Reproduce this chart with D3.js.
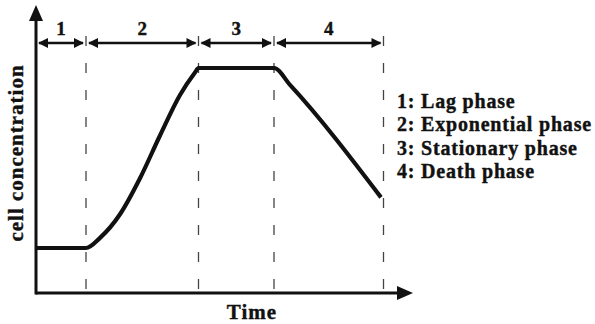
<!DOCTYPE html>
<html><head><meta charset="utf-8">
<script src="https://cdn.jsdelivr.net/npm/d3@7"></script>
<style>html,body{margin:0;padding:0;background:#fff;}svg{display:block;}</style>
</head><body>
<svg id="c" width="595" height="324"></svg>
<script>
// ---- data ----
const phaseLabels = ["1", "2", "3", "4"];
const phaseBounds = [0, 1, 3.25, 4.76, 6.95];           // time units
const legendLabels = ["1: Lag phase", "2: Exponential phase", "3: Stationary phase", "4: Death phase"];
const curveTime  = [0, 1, 1.28, 1.68, 2.08, 2.48, 2.88, 3.18, 3.25, 4.76, 5.08, 6.9];
const curveValue = [2, 2, 2.45, 3.5, 5.1, 7.0, 8.8, 9.8, 10, 10, 9.25, 4.25];
const xAxisMax = 7.54, yAxisMax = 12.8;
const xTitle = "Time", yTitle = "cell concentration";

// ---- drawing ----
const svg = d3.select("#c");
const x = d3.scaleLinear().domain([0, 7.5]).range([36, 411]);
const y = d3.scaleLinear().domain([0, 10]).range([293, 68]);
const ink = "#111";
const font = "'Liberation Serif','Times New Roman',serif";

// dashed phase boundaries
svg.selectAll("line.bound").data(phaseBounds.slice(1)).join("line")
  .attr("x1", d => x(d)).attr("x2", d => x(d))
  .attr("y1", 36).attr("y2", 291)
  .attr("stroke", "#444").attr("stroke-width", 1.3)
  .attr("stroke-dasharray", "10,17");

// axes
svg.append("line").attr("x1", x(0)).attr("x2", x(xAxisMax) - 12).attr("y1", y(0)).attr("y2", y(0))
  .attr("stroke", ink).attr("stroke-width", 3);
svg.append("line").attr("x1", x(0)).attr("x2", x(0)).attr("y1", y(0) + 1.5).attr("y2", y(yAxisMax) + 12)
  .attr("stroke", ink).attr("stroke-width", 3);
const xe = x(xAxisMax), ye = y(yAxisMax);
svg.append("path").attr("d", `M${xe},${y(0)} L${xe - 16},${y(0) - 7} L${xe - 16},${y(0) + 7} Z`).attr("fill", ink);
svg.append("path").attr("d", `M${x(0)},${ye} L${x(0) - 7},${ye + 16} L${x(0) + 7},${ye + 16} Z`).attr("fill", ink);

// phase arrows
const ay = 43;
const phases = d3.range(phaseLabels.length).map(i => ({a: phaseBounds[i], b: phaseBounds[i + 1], label: phaseLabels[i]}));
const g = svg.selectAll("g.phase").data(phases).join("g");
g.append("line")
  .attr("x1", d => x(d.a) + 3).attr("x2", d => x(d.b) - 3)
  .attr("y1", ay).attr("y2", ay).attr("stroke", ink).attr("stroke-width", 2.4);
g.append("path").attr("fill", ink)
  .attr("d", d => { const s = x(d.a) + 2; return `M${s},${ay} L${s + 10},${ay - 5} L${s + 10},${ay + 5} Z`; });
g.append("path").attr("fill", ink)
  .attr("d", d => { const e = x(d.b) - 2; return `M${e},${ay} L${e - 10},${ay - 5} L${e - 10},${ay + 5} Z`; });
g.append("text").attr("x", d => x((d.a + d.b) / 2)).attr("y", 35)
  .attr("text-anchor", "middle").attr("font-family", font).attr("font-weight", "bold")
  .attr("font-size", 19).attr("fill", ink).attr("stroke", ink).attr("stroke-width", 0.4).text(d => d.label);

// growth curve
const pts = curveTime.map((t, i) => [t, curveValue[i]]);
svg.append("path").datum(pts)
  .attr("d", d3.line().x(d => x(d[0])).y(d => y(d[1])).curve(d3.curveMonotoneX))
  .attr("fill", "none").attr("stroke", ink).attr("stroke-width", 4.2).attr("stroke-linejoin", "round");

// legend
svg.selectAll("text.leg").data(legendLabels).join("text")
  .attr("x", 397).attr("y", (d, i) => 107.5 + i * 23.5)
  .attr("font-family", font).attr("font-weight", "bold").attr("font-size", 20)
  .attr("letter-spacing", 0.8).attr("fill", ink).attr("stroke", ink).attr("stroke-width", 0.4)
  .text(d => d);

// titles
svg.append("text").attr("x", 252).attr("y", 319).attr("text-anchor", "middle")
  .attr("font-family", font).attr("font-weight", "bold").attr("font-size", 21).attr("letter-spacing", 1)
  .attr("fill", ink).attr("stroke", ink).attr("stroke-width", 0.4).text(xTitle);
svg.append("text").attr("transform", "translate(23,153) rotate(-90)").attr("text-anchor", "middle")
  .attr("font-family", font).attr("font-weight", "bold").attr("font-size", 21).attr("letter-spacing", 1)
  .attr("fill", ink).attr("stroke", ink).attr("stroke-width", 0.4).text(yTitle);
</script>
</body></html>
